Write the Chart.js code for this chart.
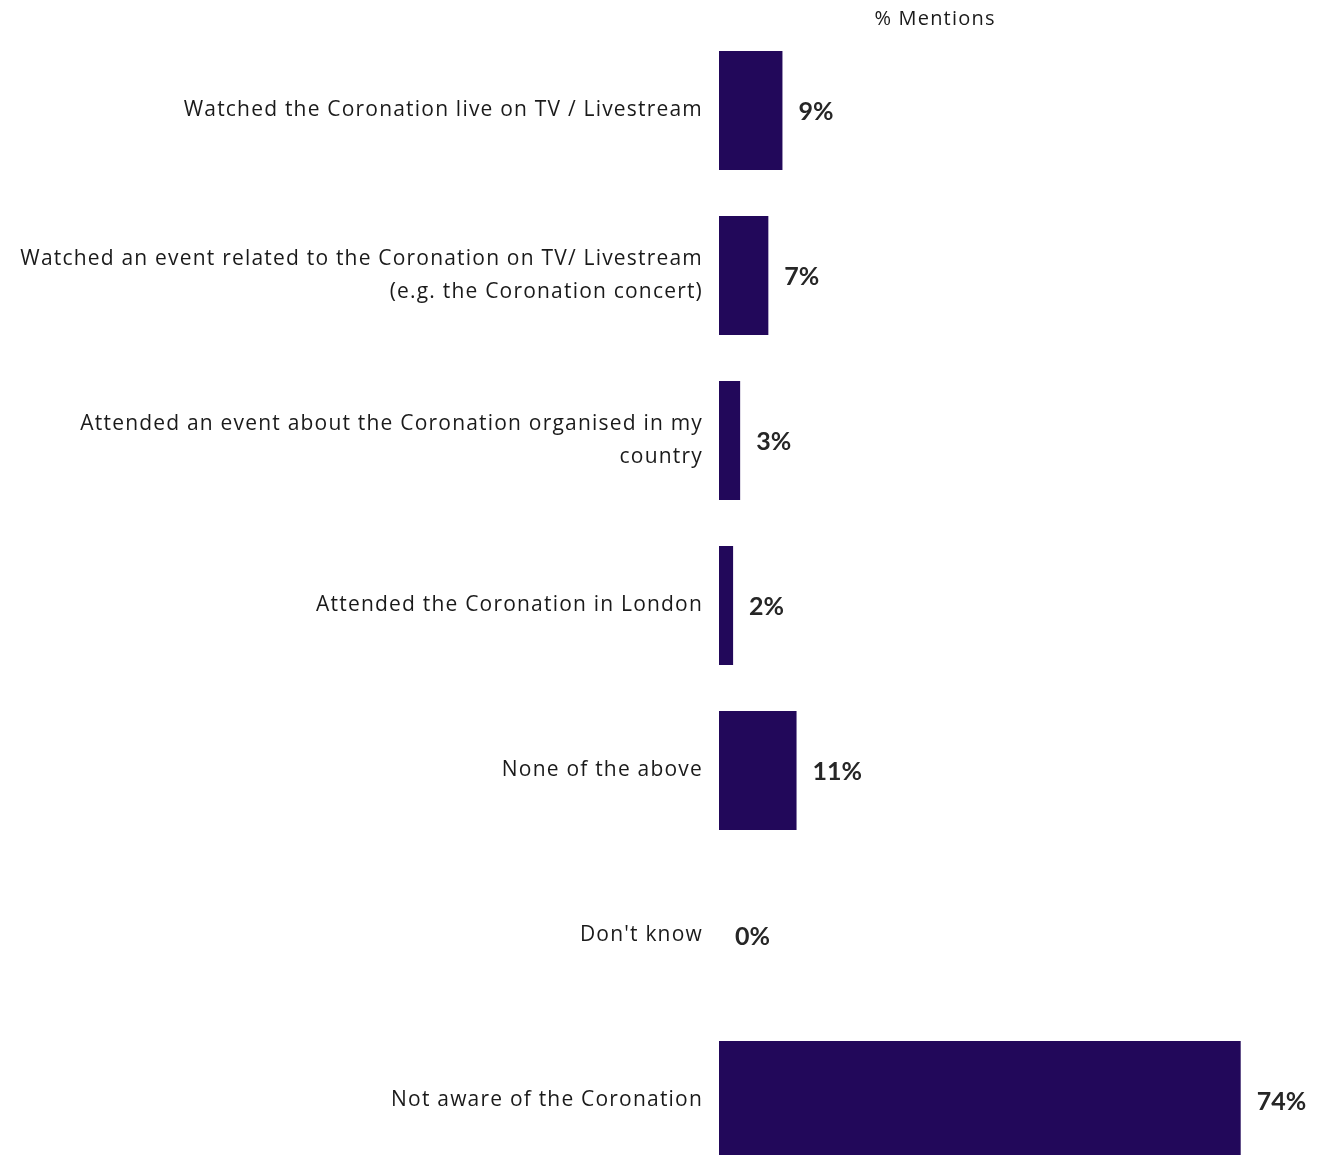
<!DOCTYPE html>
<html>
<head>
<meta charset="utf-8">
<script src="https://cdn.jsdelivr.net/npm/chart.js@4.4.0/dist/chart.umd.min.js"></script>
<style>
html, body { margin: 0; padding: 0; background: #fff; overflow: hidden; }
canvas { display: block; }
</style>
</head>
<body>
<canvas id="mentionsChart" width="1329" height="1183"></canvas>
<script>
const categories = [
    "Watched the Coronation live on TV / Livestream",
    ["Watched an event related to the Coronation on TV/ Livestream", "(e.g. the Coronation concert)"],
    ["Attended an event about the Coronation organised in my", "country"],
    "Attended the Coronation in London",
    "None of the above",
    "Don't know",
    "Not aware of the Coronation"
];
const mentions = [9, 7, 3, 2, 11, 0, 74];
const seriesTitle = "% Mentions";

const barColor = "#22085a";
const labelFont = "'Open Sans', sans-serif";
const valueFont = "Lato, 'Open Sans', sans-serif";

// spaced-out category text, like the source
const spacedText = {
    id: "spacedText",
    beforeDraw: function (chart) {
        chart.ctx.letterSpacing = "1.2px";
    }
};

// value labels right of each bar + title over the plot
const valueLabels = {
    id: "valueLabels",
    afterDatasetsDraw: function (chart) {
        const ctx = chart.ctx;
        const meta = chart.getDatasetMeta(0);
        ctx.save();
        ctx.letterSpacing = "0px";
        ctx.fillStyle = "#262626";
        ctx.font = "bold 25px " + valueFont;
        ctx.textAlign = "left";
        ctx.textBaseline = "middle";
        meta.data.forEach(function (bar, i) {
            ctx.fillText(mentions[i] + "%", bar.x + 16, bar.y + 1);
        });
        ctx.letterSpacing = "1.2px";
        ctx.font = "20px " + labelFont;
        ctx.fillStyle = "#1a1a1a";
        ctx.textAlign = "center";
        ctx.fillText(seriesTitle, 935, 19);
        ctx.restore();
    }
};

new Chart(document.getElementById("mentionsChart"), {
    type: "bar",
    data: {
        labels: categories,
        datasets: [{
            label: seriesTitle,
            data: mentions,
            backgroundColor: barColor,
            barThickness: 119,
            inflateAmount: 0
        }]
    },
    options: {
        indexAxis: "y",
        responsive: false,
        animation: false,
        // canvas is taller than the window: last row runs off the bottom edge, as in the source
        layout: { padding: { top: 28, right: 46, bottom: 0, left: 0 } },
        scales: {
            x: {
                min: 0,
                max: 80,
                display: false
            },
            y: {
                grid: { display: false, drawTicks: false },
                border: { display: false },
                ticks: {
                    color: "#1a1a1a",
                    padding: 16,
                    font: { family: labelFont, size: 21, lineHeight: 1.58 }
                },
                afterFit: function (scale) {
                    scale.width = 719;
                    scale.paddingTop = 0;
                    scale.paddingBottom = 0;
                }
            }
        },
        plugins: {
            legend: { display: false },
            tooltip: { enabled: false }
        }
    },
    plugins: [spacedText, valueLabels]
});
</script>
</body>
</html>
